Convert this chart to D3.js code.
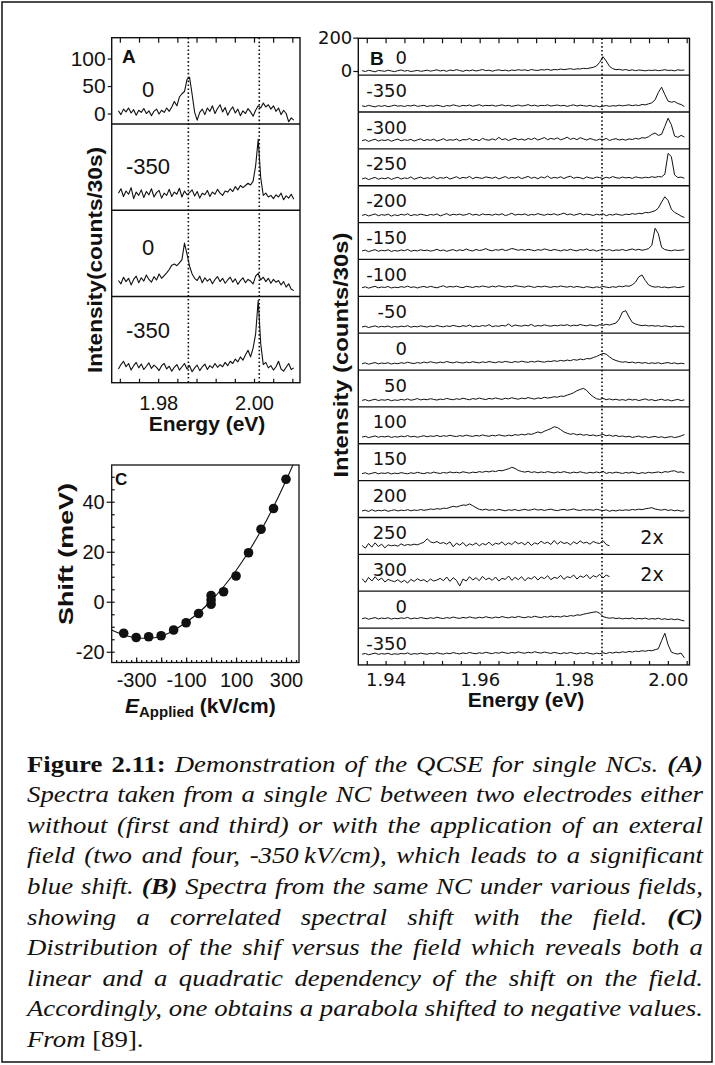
<!DOCTYPE html>
<html>
<head>
<meta charset="utf-8">
<script src="https://cdn.jsdelivr.net/npm/d3@7"></script>
<style>
  body { margin: 0; background: #fff; }
  svg { display: block; }
</style>
</head>
<body>
<svg id="fig" width="715" height="1065"></svg>
<script>
// ---- panel A: four spectra, counts ----
const aFields = ["0", "-350", "0", "-350"];
const aEnergyRange = [1.9717, 2.0083];
const aYTicks = [0, 50, 100];
const aTickLabels = [1.98, 2.00];
const aMarks = [1.9863, 2.0011];
const specA1 = [5,-2,8,3,10,1,7,-3,6,2, 9,0,5,-4,4,8,-1,6,2,10, 4,12,22,14,30,36,40,62,66,35,
  2,-12,2,8,-2,10,4,14,0,9, 16,3,11,-3,6,12,1,8,-4,5, 0,9,3,-5,6,14,10,19,12,16, 8,14,4,10,-2,6,0,-15,-8,-12];
const specA2 = [12,20,6,16,10,22,2,14,8,18, 4,15,9,20,5,13,17,3,12,8, 19,6,14,10,21,5,16,9,13,18,
  7,15,3,12,9,17,6,14,10,19, 12,8,16,14,20,15,24,18,26,22, 26,30,27,34,62,110,40,8,12,5, 8,2,9,5,12,0,7,3,10,1];
const specA3 = [10,4,16,8,14,2,12,18,6,15, 9,20,12,7,17,11,22,14,19,24, 30,38,40,37,42,48,78,58,36,22,
  14,10,18,6,15,9,13,4,12,17, 8,14,5,11,16,7,13,3,10,15, 6,12,9,4,18,23,11,16,8,14, 5,12,7,10,2,8,-2,4,-6,-8];
const specA4 = [6,14,20,10,16,4,12,18,8,15, 5,11,17,7,13,9,3,12,16,6, 11,2,9,14,4,10,16,6,12,1,
  8,13,3,10,15,5,12,8,16,9, 14,10,18,12,20,16,24,19,28,22, 32,40,28,44,70,131,52,14,18,8, 12,4,10,20,6,2,9,16,5,8];

// ---- panel B: seventeen spectra (field in kV/cm), sampled from 1.935 eV in 0.000692 eV steps ----
const bFields = ["0", "-350", "-300", "-250", "-200", "-150", "-100", "-50", "0", "50", "100", "150", "200", "250", "300", "0", "-350"];
const bEnergyStart = 1.935, bEnergyStep = 0.000692;
const bYTicks = [0, 200];
const bTickLabels = [1.94, 1.96, 1.98, 2.00];
const bMark = 1.986;
const bDoubled = ["250", "300"];
const specB01 = [2,-3,4,0,-5,3,1,-2,5,0, -4,2,6,-1,3,-3,0,4,-2,1, 5,-1,3,7,0,4,-2,6,2,8, 3,-2,5,1,6,0,4,9,2,5,
  -1,4,7,2,5,0,6,3,8,4, 7,2,9,5,3,8,6,10,4,9, 7,12,8,11,14,9,13,12,16,14, 18,22,30,52,86,60,28,14,8,10,
  5,9,3,7,2,6,4,1,5,3, 6,2,4,8,3,5,1,7,4,6];
const specB02 = [12,8,15,10,6,13,9,14,7,11, 16,10,13,8,14,11,17,9,12,15, 8,13,10,16,12,7,14,11,18,13, 9,15,12,17,10,14,19,11,15,13,
  16,10,14,18,12,15,9,13,17,11, 14,19,12,16,10,15,13,18,11,14, 17,12,15,9,14,18,11,16,13,10, 15,8,12,6,10,14,9,13,11,16,
  12,15,18,13,17,14,20,18,24,30, 48,92,124,80,40,34,38,26,20,8];
const specB03 = [24,30,20,27,33,22,29,25,31,21, 28,34,23,30,26,32,22,29,35,24, 31,26,33,22,28,36,25,30,27,34, 23,31,29,37,26,32,24,38,30,27,
  35,28,44,30,36,25,33,39,29,34, 27,37,31,40,28,35,43,30,38,33, 41,29,36,45,32,39,30,42,35,28, 37,31,26,34,29,38,25,32,36,28,
  33,27,35,31,38,34,42,40,48,62, 70,56,62,110,159,120,52,44,56,46];
const specB04 = [16,22,12,19,25,14,21,17,24,13, 20,26,15,22,18,28,14,21,27,17, 23,19,30,16,24,20,27,15,22,29, 18,25,21,31,17,26,22,19,28,24,
  20,27,16,23,30,19,25,21,29,18, 24,31,20,26,17,28,22,33,19,25, 21,29,18,27,32,20,26,23,17,28, 22,19,27,24,18,26,21,30,23,20,
  27,22,25,19,28,24,21,26,23,29, 25,30,28,44,169,150,40,24,27,20];
const specB05 = [18,24,15,21,27,16,23,19,26,14, 22,17,25,20,28,16,23,19,26,21, 17,24,20,27,15,22,29,18,25,21, 26,19,23,30,20,25,18,27,22,24,
  19,26,21,28,17,23,31,20,25,22, 27,18,24,21,29,23,19,26,22,28, 20,25,32,22,27,19,24,30,21,26, 23,18,25,21,28,16,24,20,27,22,
  19,26,23,29,25,31,28,36,34,40, 46,62,98,130,108,56,36,26,14,6];
const specB06 = [26,31,22,28,34,24,30,27,33,23, 29,25,32,27,35,24,30,26,33,28, 31,25,29,36,27,32,24,30,34,26, 33,28,38,30,26,35,29,32,40,31,
  27,34,30,37,28,33,41,36,30,35, 29,36,32,27,34,30,38,33,28,35, 31,26,33,29,36,30,27,34,31,38, 28,33,25,31,36,29,34,27,32,30,
  35,28,33,38,31,36,30,34,40,60, 162,130,48,34,30,27,32,29,31,33];
const specB07 = [27,32,24,30,35,26,31,28,34,25, 30,27,33,29,36,28,32,25,31,34, 28,35,30,26,33,38,29,34,31,36, 30,27,35,32,28,34,31,37,33,29,
  36,31,38,34,30,35,32,39,36,33, 30,37,33,28,35,31,36,32,29,34, 31,37,33,30,35,29,34,31,27,33, 30,26,32,28,34,30,27,33,29,36,
  32,38,35,44,60,92,103,70,44,34, 30,33,28,31,26,29,32,27,30,34];
const specB08 = [12,17,9,14,19,11,16,13,18,10, 15,12,17,14,20,11,16,13,19,15, 12,18,14,21,16,13,19,15,22,17, 14,20,16,24,13,18,15,21,17,26,
  14,19,16,22,18,30,15,24,20,17, 23,19,28,16,21,18,25,20,17,22, 19,24,21,26,18,23,20,27,22,19, 25,21,18,26,22,28,24,30,36,60,
  102,110,72,40,30,24,20,23,18,21, 17,20,15,19,16,13,18,14,17,12];
const specB09 = [13,18,10,15,20,12,17,14,19,11, 16,13,19,15,22,17,14,20,16,23, 18,25,20,17,23,19,26,21,18,24, 20,17,23,19,25,21,18,24,20,26,
  22,19,25,21,27,23,20,26,22,28, 24,21,27,23,29,25,22,28,26,31, 27,33,29,35,31,38,34,41,37,44, 42,50,56,66,75,70,54,40,32,26,
  22,25,19,23,17,21,16,20,14,18, 15,19,13,17,20,14,18,12,16,13];
const specB10 = [14,19,11,16,21,13,18,15,20,12, 17,14,20,16,23,15,19,25,17,21, 18,24,20,16,22,19,26,21,18,24, 20,27,22,18,25,21,28,23,19,26,
  22,29,24,20,27,23,30,25,21,28, 24,31,26,22,29,25,33,28,31,36, 33,40,38,46,52,60,72,80,86,74, 52,36,24,20,26,18,23,17,21,15,
  19,14,22,16,20,13,18,23,15,19, 12,17,21,14,18,11,16,20,13,17];
const specB11 = [15,20,12,17,22,14,19,16,21,13, 18,15,21,17,24,16,20,14,19,23, 17,22,19,25,18,23,20,26,21,18, 24,20,27,22,19,25,21,28,23,20,
  26,22,29,24,21,27,23,30,26,32, 28,35,31,38,46,40,50,58,66,77, 72,60,46,38,32,36,28,33,26,30, 24,28,22,26,31,23,27,20,25,18,
  22,16,20,13,17,21,14,18,12,16, 19,13,17,11,15,18,12,16,22,30];
const specB12 = [17,22,14,19,24,16,21,18,23,15, 20,17,23,19,16,22,18,25,20,17, 23,19,26,21,18,24,20,27,22,25, 21,28,24,20,26,23,29,25,31,27,
  33,29,36,34,40,46,55,48,36,30, 26,31,24,28,22,27,23,29,25,21, 27,23,29,24,20,26,22,28,23,19, 25,21,27,22,31,18,24,20,26,22,
  18,24,20,26,21,17,23,19,25,21, 24,27,22,29,26,32,34,25,28,21];
const specB13 = [14,19,11,22,13,18,15,20,12,17, 21,14,19,16,22,15,20,17,23,18, 21,26,23,28,25,31,29,36,42,38, 44,50,48,56,46,34,24,20,25,18,
  22,17,24,19,15,21,18,23,16,20, 24,18,21,26,19,23,17,22,25,19, 16,21,24,18,22,26,20,17,23,19, 22,18,24,20,16,21,12,18,14,20,
  17,21,18,23,20,25,22,27,30,34, 26,22,19,24,17,21,15,19,13,16];
const specB14 = [28,12,40,18,44,22,36,14,32,26, 30,24,38,28,34,30,36,32,40,48, 68,50,44,52,40,46,36,50,20,42, 30,46,24,38,30,44,26,40,32,48,
  28,42,36,50,30,44,34,52,38,46, 32,50,28,44,36,54,40,48,34,58, 36,52,40,46,32,50,38,56,42,48, 36,52,44,40,58,34,26];
const specB15 = [50,28,58,36,62,40,54,30,46,38, 32,44,28,40,24,46,34,50,38,44, 30,48,36,42,52,38,60,34,56,40, 6,48,36,62,42,56,38,64,44,54,
  40,60,36,52,46,66,40,58,44,62, 38,56,48,64,42,60,50,68,44,58, 52,70,46,62,56,72,48,66,58,74, 50,68,60,76,54,72,62];
const specB16 = [31,36,28,33,38,30,35,32,37,29, 34,31,36,33,39,30,35,32,38,34, 31,37,33,40,35,32,38,34,41,36, 33,39,35,42,37,34,40,36,43,38,
  35,41,37,44,39,36,42,38,45,40, 37,43,39,46,41,38,44,40,47,42, 45,41,48,44,50,47,54,52,58,62, 66,70,73,64,44,38,34,37,32,35,
  30,34,31,36,29,33,30,35,28,32, 29,34,27,31,26,30,25,29,22,18];
const specB17 = [39,44,36,41,46,38,43,40,45,37, 42,39,44,41,47,38,43,40,46,42, 39,45,41,48,43,40,46,42,49,44, 41,47,43,50,45,42,48,44,51,46,
  43,49,45,52,47,44,50,46,53,48, 45,51,47,54,49,46,52,48,44,50, 46,42,48,44,50,45,41,47,43,49, 44,40,46,42,48,43,50,46,52,48,
  54,50,56,52,58,55,60,57,62,60, 66,72,120,165,96,52,44,40,46,17];

// ---- panel C: shift versus applied field ----
const cField = [-350, -300, -250, -200, -150, -100, -50, 0, 0, 0, 50, 100, 150, 200, 250, 300];
const cShift = [-12.6, -14.3, -14, -13.6, -11.3, -8.4, -4.7, 2.5, 0.7, -1, 4, 10.3, 19.6, 29, 37.3, 49];
const cFitField = [-398, -350, -300, -250, -200, -150, -100, -50, 0, 50, 100, 150, 200, 250, 300, 340];
const cFitShift = [-11.3, -13.3, -14.4, -14.6, -13.8, -11.5, -8.2, -4.4, 0.4, 6, 12.5, 20, 28.5, 38, 48.5, 57.5];
const cXTicks = [-300, -100, 100, 300];
const cYTicks = [-20, 0, 20, 40];

const captionLines = [
  "Figure 2.11: Demonstration of the QCSE for single NCs. (A)",
  "Spectra taken from a single NC between two electrodes either",
  "without (first and third) or with the application of an exteral",
  "field (two and four, -350\u2009kV/cm), which leads to a significant",
  "blue shift. (B) Spectra from the same NC under various fields,",
  "showing a correlated spectral shift with the field. (C)",
  "Distribution of the shif versus the field which reveals both a",
  "linear and a quadratic dependency of the shift on the field.",
  "Accordingly, one obtains a parabola shifted to negative values.",
  "From [89]."
];
const captionStyle = {"Figure": "b", "2.11:": "b", "(A)": "bi", "(B)": "bi", "(C)": "bi", "[89].": "r"};

// pick the first installed face from a list (canvas width probe against monospace)
function pickFont(list, generic) {
  const ctx = document.createElement("canvas").getContext("2d");
  const probe = "Intensity counts 0123456789 Energy ABCDEFG";
  ctx.font = "40px monospace";
  const base = ctx.measureText(probe).width;
  for (const f of list) {
    ctx.font = `40px "${f}", monospace`;
    if (Math.abs(ctx.measureText(probe).width - base) > 0.5) return `"${f}", ${generic}`;
  }
  return generic;
}

// ---- drawing ----
const ink = "#111";
const sans = pickFont(["Liberation Sans", "Arial", "Helvetica", "Arimo", "Nimbus Sans", "Roboto", "Inter", "Noto Sans"], "sans-serif");
const wide = pickFont(["DejaVu Sans", "Verdana"], "sans-serif");
const serif = pickFont(["Liberation Serif", "Times New Roman", "Tinos", "Nimbus Roman", "FreeSerif", "Noto Serif", "DejaVu Serif"], "serif");
const plain = d => String(d);   // keep the hyphen-minus of the original labels
const svg = d3.select("#fig");

svg.append("rect").attr("x", 2).attr("y", 2).attr("width", 710).attr("height", 1060)
  .attr("fill", "none").attr("stroke", ink).attr("stroke-width", 1.5);

function styleAxis(g, size, family) {
  g.select(".domain").remove();
  g.attr("font-family", null);
  g.selectAll(".tick line").attr("stroke", ink).attr("stroke-width", 1.2);
  g.selectAll(".tick text").attr("font-size", size).style("font-family", family).attr("fill", ink);
}

function dotted(x, y0, y1) {
  svg.append("line").attr("x1", x).attr("x2", x).attr("y1", y0).attr("y2", y1)
    .attr("stroke", ink).attr("stroke-width", 1.6).attr("stroke-dasharray", "1.6 2.3");
}

// panel A
const A = {left: 111.7, right: 300, top: 37.7, ph: 86.25};
const xA = d3.scaleLinear().domain([1.9703, 2.0096]).range([A.left, A.right]);
const aSpectra = [specA1, specA2, specA3, specA4];
const aLabelDy = [59, 50, 45, 42];
const yA = aSpectra.map((s, k) => d3.scaleLinear().domain([-19, 138]).range([A.top + (k + 1) * A.ph, A.top + k * A.ph]));

aSpectra.forEach((vals, k) => {
  const step = (aEnergyRange[1] - aEnergyRange[0]) / (vals.length - 1);
  const line = d3.line().x((d, i) => xA(aEnergyRange[0] + i * step)).y(d => yA[k](d));
  svg.append("path").datum(vals).attr("d", line).attr("fill", "none")
    .attr("stroke", ink).attr("stroke-width", 1.1).attr("stroke-linejoin", "round");
  svg.append("text").attr("x", 148).attr("y", A.top + k * A.ph + aLabelDy[k])
    .attr("text-anchor", "middle").style("font-family", sans).attr("font-size", 22).attr("fill", ink)
    .text(aFields[k]);
  if (k > 0) svg.append("line").attr("x1", A.left).attr("x2", A.right)
    .attr("y1", A.top + k * A.ph).attr("y2", A.top + k * A.ph).attr("stroke", ink).attr("stroke-width", 1.4);
});
aMarks.forEach(e => dotted(xA(e), A.top, A.top + 4 * A.ph));
svg.append("rect").attr("x", A.left).attr("y", A.top).attr("width", A.right - A.left).attr("height", 4 * A.ph)
  .attr("fill", "none").attr("stroke", ink).attr("stroke-width", 1.4);

const aGrid = d3.range(1.972, 2.0085, 0.004);
svg.append("g").attr("transform", `translate(0,${A.top})`)
  .call(d3.axisTop(xA).tickValues(aGrid).tickSize(-5).tickFormat("")).call(styleAxis, 20, sans);
svg.append("g").attr("transform", `translate(0,${A.top + 4 * A.ph})`)
  .call(d3.axisBottom(xA).tickValues(aGrid).tickSize(-4).tickFormat("")).call(styleAxis, 20, sans);
svg.append("g").attr("transform", `translate(0,${A.top + 4 * A.ph})`)
  .call(d3.axisBottom(xA).tickValues(aTickLabels).tickSize(0).tickPadding(13).tickFormat(d3.format(".2f")))
  .call(styleAxis, 20, sans);
svg.append("g").attr("transform", `translate(${A.left},0)`)
  .call(d3.axisLeft(yA[0]).tickValues(aYTicks).tickSize(4).tickPadding(2).tickFormat(plain)).call(styleAxis, 21, sans);
svg.append("text").attr("x", 122).attr("y", 63).style("font-family", sans).attr("font-weight", "bold")
  .attr("font-size", 19).attr("fill", ink).text("A");

// panel B
const B = {left: 358.3, right: 689.5, top: 38.3, ph: 36.86};
const xB = d3.scaleLinear().domain([1.9342, 2.0046]).range([B.left, B.right]);
const bSpectra = [specB01, specB02, specB03, specB04, specB05, specB06, specB07, specB08, specB09,
  specB10, specB11, specB12, specB13, specB14, specB15, specB16, specB17];
const yB = bSpectra.map((s, k) => d3.scaleLinear().domain([-25, 196.1]).range([B.top + (k + 1) * B.ph, B.top + k * B.ph]));

bSpectra.forEach((vals, k) => {
  const top = B.top + k * B.ph;
  const line = d3.line().x((d, i) => xB(bEnergyStart + i * bEnergyStep)).y(d => yB[k](d));
  svg.append("path").datum(vals).attr("d", line).attr("fill", "none")
    .attr("stroke", ink).attr("stroke-width", 1).attr("stroke-linejoin", "round");
  svg.append("text").attr("x", 407).attr("y", top + (k === 0 ? 26 : 21.5))
    .attr("text-anchor", "end").style("font-family", wide).attr("font-size", 18).attr("fill", ink)
    .text(bFields[k]);
  if (bDoubled.includes(bFields[k])) svg.append("text").attr("x", 652).attr("y", top + 26.5)
    .attr("text-anchor", "middle").style("font-family", wide).attr("font-size", 19).attr("fill", ink).text("2x");
  if (k > 0) svg.append("line").attr("x1", B.left).attr("x2", B.right).attr("y1", top).attr("y2", top)
    .attr("stroke", ink).attr("stroke-width", 1.3);
});
dotted(xB(bMark), B.top, B.top + 17 * B.ph);
svg.append("rect").attr("x", B.left).attr("y", B.top).attr("width", B.right - B.left).attr("height", 17 * B.ph)
  .attr("fill", "none").attr("stroke", ink).attr("stroke-width", 1.4);

const bGrid = d3.range(1.936, 2.0045, 0.004);
svg.append("g").attr("transform", `translate(0,${B.top})`)
  .call(d3.axisTop(xB).tickValues(bGrid).tickSize(-5).tickFormat("")).call(styleAxis, 18, wide);
svg.append("g").attr("transform", `translate(0,${B.top + 17 * B.ph})`)
  .call(d3.axisBottom(xB).tickValues(bGrid).tickSize(-4).tickFormat("")).call(styleAxis, 18, wide);
svg.append("g").attr("transform", `translate(0,${B.top + 17 * B.ph})`)
  .call(d3.axisBottom(xB).tickValues(bTickLabels).tickSize(0).tickPadding(8).tickFormat(d3.format(".2f")))
  .call(styleAxis, 18, wide);
svg.append("g").attr("transform", `translate(${B.left},0)`)
  .call(d3.axisLeft(yB[0]).tickValues(bYTicks).tickSize(5).tickPadding(1).tickFormat(plain)).call(styleAxis, 18, wide);
svg.append("text").attr("x", 370).attr("y", 64.5).style("font-family", sans).attr("font-weight", "bold")
  .attr("font-size", 19).attr("fill", ink).text("B");

// panel C
const C = {left: 111.7, right: 299, top: 465, bottom: 662.5};
const xC = d3.scaleLinear().domain([-398, 352]).range([C.left, C.right]);
const yC = d3.scaleLinear().domain([-24.3, 54.7]).range([C.bottom, C.top]);
svg.append("clipPath").attr("id", "clipC").append("rect")
  .attr("x", C.left).attr("y", C.top).attr("width", C.right - C.left).attr("height", C.bottom - C.top);
const fit = d3.line().x((d, i) => xC(cFitField[i])).y(d => yC(d)).curve(d3.curveMonotoneX);
svg.append("path").datum(cFitShift).attr("d", fit).attr("clip-path", "url(#clipC)")
  .attr("fill", "none").attr("stroke", ink).attr("stroke-width", 1.1);
svg.append("g").selectAll("circle").data(cShift).join("circle")
  .attr("cx", (d, i) => xC(cField[i])).attr("cy", d => yC(d)).attr("r", 4.8).attr("fill", ink);
svg.append("rect").attr("x", C.left).attr("y", C.top).attr("width", C.right - C.left).attr("height", C.bottom - C.top)
  .attr("fill", "none").attr("stroke", ink).attr("stroke-width", 1.3);

svg.append("g").attr("transform", `translate(${C.left},0)`)
  .call(d3.axisLeft(yC).tickValues(d3.range(-20, 55, 5)).tickSize(-3).tickFormat("")).call(styleAxis, 19, sans);
svg.append("g").attr("transform", `translate(${C.left},0)`)
  .call(d3.axisLeft(yC).tickValues(cYTicks).tickSize(5).tickPadding(2).tickFormat(plain)).call(styleAxis, 20, sans);
svg.append("g").attr("transform", `translate(0,${C.bottom})`)
  .call(d3.axisBottom(xC).tickValues(d3.range(-380, 352, 20)).tickSize(-2.5).tickFormat("")).call(styleAxis, 19, sans);
svg.append("g").attr("transform", `translate(0,${C.bottom})`)
  .call(d3.axisBottom(xC).tickValues(d3.range(-300, 352, 100)).tickSize(-5).tickFormat("")).call(styleAxis, 19, sans);
svg.append("g").attr("transform", `translate(0,${C.bottom})`)
  .call(d3.axisBottom(xC).tickValues(cXTicks).tickSize(0).tickPadding(10).tickFormat(plain)).call(styleAxis, 20, sans);
svg.append("text").attr("x", 115).attr("y", 485).style("font-family", sans).attr("font-weight", "bold")
  .attr("font-size", 17).attr("fill", ink).text("C");

// axis titles
function vtitle(cx, cy, len, size, txt) {
  svg.append("text").attr("transform", `translate(${cx},${cy}) rotate(-90)`)
    .attr("text-anchor", "middle").attr("dy", "0.35em").style("font-family", sans).attr("font-weight", "bold")
    .attr("font-size", size).attr("fill", ink)
    .attr("textLength", len).attr("lengthAdjust", "spacingAndGlyphs").text(txt);
}
vtitle(95, 260, 226, 21, "Intensity(counts/30s)");
vtitle(341, 355, 245, 20, "Intensity (counts/30s)");
vtitle(66, 554, 142, 20, "Shift (meV)");

function htitle(cx, base, txt) {
  svg.append("text").attr("x", cx).attr("y", base).attr("text-anchor", "middle").style("font-family", sans)
    .attr("font-weight", "bold").attr("font-size", 21).attr("fill", ink).text(txt);
}
htitle(207, 431, "Energy (eV)");
htitle(526, 707, "Energy (eV)");
const et = svg.append("text").attr("x", 125).attr("y", 713).style("font-family", sans)
  .attr("font-weight", "bold").attr("fill", ink);
et.append("tspan").attr("font-size", 21).attr("font-style", "italic").text("E");
et.append("tspan").attr("font-size", 15).attr("dy", 4).text("Applied");
et.append("tspan").attr("font-size", 21).attr("dy", -4).text(" (kV/cm)");

// caption, justified; horizontal scale set so the naturally spaced 9th line fills the width
const cap = {x: 27, width: 676, base: 771.8, lead: 30.55, size: 23};
function capWords(g, line) {
  return line.split(" ").map(w => {
    const s = captionStyle[w] || "i";
    return g.append("text").text(w).style("font-family", serif).attr("font-size", cap.size).attr("fill", ink)
      .attr("font-weight", s.includes("b") ? "bold" : "normal")
      .attr("font-style", s.includes("i") ? "italic" : "normal");
  });
}
const probeG = svg.append("g");
const probeNodes = capWords(probeG, captionLines[8]);
const spaceW = cap.size * 0.25;
const natural = d3.sum(probeNodes, n => n.node().getComputedTextLength()) + spaceW * (probeNodes.length - 1);
probeG.remove();
const sx = cap.width / natural;

captionLines.forEach((line, li) => {
  const g = svg.append("g")
    .attr("transform", `translate(${cap.x},${cap.base + li * cap.lead}) scale(${sx},1)`);
  const nodes = capWords(g, line);
  const widths = nodes.map(n => n.node().getComputedTextLength());
  const last = li === captionLines.length - 1;
  const gap = last ? spaceW : (cap.width / sx - d3.sum(widths)) / (nodes.length - 1);
  let x = 0;
  nodes.forEach((n, i) => { n.attr("x", x); x += widths[i] + gap; });
});
</script>
</body>
</html>
